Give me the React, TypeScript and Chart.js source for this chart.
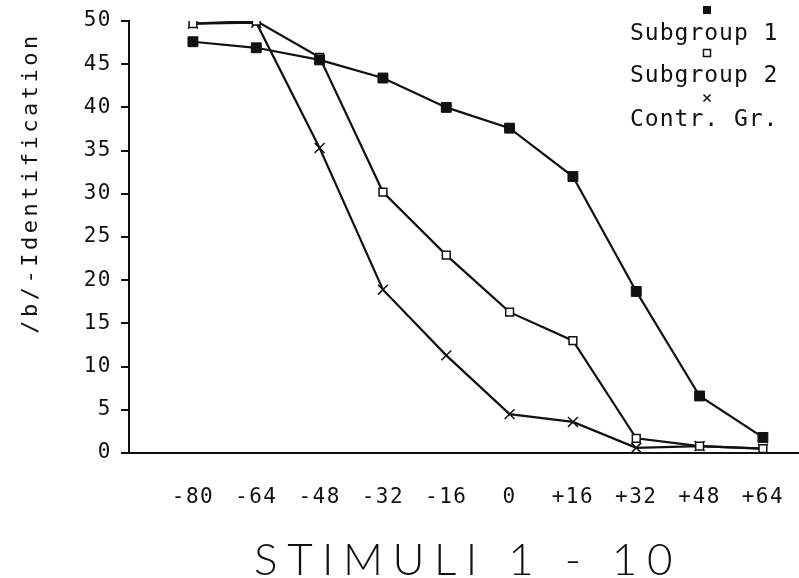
import React, { useEffect, useRef } from 'react';
import { Chart, registerables } from 'chart.js';

Chart.register(...registerables);

const stimuli = ['-80', '-64', '-48', '-32', '-16', '0', '+16', '+32', '+48', '+64'];
const subgroup1 = [47.6, 46.9, 45.5, 43.4, 40.0, 37.6, 32.0, 18.7, 6.6, 1.8];
const subgroup2 = [49.7, 50.0, 45.8, 30.2, 22.9, 16.3, 13.0, 1.7, 0.8, 0.5];
const control = [49.7, 49.8, 35.3, 18.9, 11.3, 4.5, 3.6, 0.6, 0.8, 0.5];
const yTicks = [0, 5, 10, 15, 20, 25, 30, 35, 40, 45, 50];
const legendLabels = ['Subgroup 1', 'Subgroup 2', 'Contr. Gr.'];
const yTitle = '/b/-Identification';
const xTitle = 'STIMULI 1 - 10';

const INK = '#111111';
const MONO = "'DejaVu Sans Mono', 'Liberation Mono', monospace";

function drawMarker(ctx: CanvasRenderingContext2D, kind: number, x: number, y: number) {
  ctx.save();
  ctx.strokeStyle = INK;
  ctx.fillStyle = INK;
  ctx.lineWidth = 1.5;
  if (kind === 0) {
    ctx.fillRect(x - 4, y - 4, 8, 8);
  } else if (kind === 1) {
    ctx.fillStyle = '#fff';
    ctx.fillRect(x - 3.5, y - 3.5, 7, 7);
    ctx.strokeRect(x - 3.5, y - 3.5, 7, 7);
  } else {
    ctx.beginPath();
    ctx.moveTo(x - 3.5, y - 3.5);
    ctx.lineTo(x + 3.5, y + 3.5);
    ctx.moveTo(x + 3.5, y - 3.5);
    ctx.lineTo(x - 3.5, y + 3.5);
    ctx.stroke();
  }
  ctx.restore();
}

export default function App() {
  const ref = useRef<HTMLCanvasElement>(null);

  useEffect(() => {
    const canvas = ref.current;
    if (!canvas) return;

    const textPlugin = {
      id: 'paperText',
      beforeDraw(chart: any) {
        chart.ctx.letterSpacing = '1.5px';
      },
      afterDraw(chart: any) {
        const ctx = chart.ctx as any;
        const area = chart.chartArea;
        // y title
        ctx.save();
        ctx.fillStyle = INK;
        ctx.letterSpacing = '3.5px';
        ctx.font = `22px ${MONO}`;
        ctx.translate(31, 183);
        ctx.rotate(-Math.PI / 2);
        ctx.textAlign = 'center';
        ctx.textBaseline = 'middle';
        ctx.fillText(yTitle, 0, 0);
        ctx.restore();

        // x title
        ctx.save();
        ctx.fillStyle = INK;
        ctx.letterSpacing = '9.5px';
        ctx.font = `300 44px Lato, Roboto, sans-serif`;
        ctx.textAlign = 'center';
        ctx.textBaseline = 'alphabetic';
        ctx.fillText(xTitle, (area.left + area.right) / 2 + 4, 575);
        ctx.restore();

        // legend
        ctx.save();
        ctx.fillStyle = INK;
        ctx.letterSpacing = '1px';
        ctx.font = `23px ${MONO}`;
        ctx.textAlign = 'left';
        ctx.textBaseline = 'middle';
        const markY = [10, 53, 98];
        const textY = [34, 76, 120];
        legendLabels.forEach((lab, i) => {
          drawMarker(ctx, i, 707, markY[i]);
          ctx.fillText(lab, 630, textY[i]);
        });
        ctx.restore();
        ctx.letterSpacing = '0px';
      },
    };

    const toPts = (arr: number[]) => arr.map((v, i) => ({ x: i, y: v }));

    const chart = new Chart(canvas, {
      type: 'line',
      data: {
        datasets: [
          {
            label: legendLabels[0],
            data: toPts(subgroup1),
            borderColor: INK,
            borderWidth: 2.2,
            pointStyle: 'rect',
            pointRadius: 7,
            pointBackgroundColor: INK,
            pointBorderColor: INK,
            pointBorderWidth: 1,
            tension: 0,
          },
          {
            label: legendLabels[1],
            data: toPts(subgroup2),
            borderColor: INK,
            borderWidth: 2.2,
            pointStyle: 'rect',
            pointRadius: 5.5,
            pointBackgroundColor: '#ffffff',
            pointBorderColor: INK,
            pointBorderWidth: 1.5,
            tension: 0,
          },
          {
            label: legendLabels[2],
            data: toPts(control),
            borderColor: INK,
            borderWidth: 2.2,
            pointStyle: 'crossRot',
            pointRadius: 7,
            pointBackgroundColor: INK,
            pointBorderColor: INK,
            pointBorderWidth: 1.5,
            tension: 0,
          },
        ],
      },
      options: {
        animation: false,
        responsive: false,
        devicePixelRatio: 1,
        layout: { autoPadding: false, padding: { top: 21, right: 0, left: 0, bottom: 0 } },
        plugins: {
          legend: { display: false },
          tooltip: { enabled: false },
        },
        scales: {
          x: {
            type: 'linear',
            min: -1.01,
            max: 9.57,
            afterBuildTicks: (s: any) => {
              s.ticks = stimuli.map((_, i) => ({ value: i }));
            },
            afterFit: (s: any) => {
              s.height = 125;
              s.paddingLeft = 0;
              s.paddingRight = 0;
            },
            grid: { display: false, drawTicks: false },
            border: { display: true, color: INK, width: 2 },
            ticks: {
              autoSkip: false,
              maxRotation: 0,
              padding: 32,
              color: INK,
              font: { family: MONO, size: 21 },
              callback: (v: any) => stimuli[Math.round(Number(v))] ?? '',
            },
          },
          y: {
            min: 0,
            max: 50,
            afterBuildTicks: (s: any) => {
              s.ticks = yTicks.map((v) => ({ value: v }));
            },
            afterFit: (s: any) => {
              s.width = 129;
              s.paddingTop = 0;
              s.paddingBottom = 0;
            },
            grid: { drawOnChartArea: false, drawTicks: true, tickLength: 8, color: INK, lineWidth: 2 },
            border: { display: true, color: INK, width: 2 },
            ticks: {
              padding: 9,
              color: INK,
              font: { family: MONO, size: 21 },
            },
          },
        },
      },
      plugins: [textPlugin],
    });

    return () => chart.destroy();
  }, []);

  return (
    <div style={{ position: 'fixed', left: 0, top: 0, width: 799, height: 578, background: '#fff' }}>
      <canvas ref={ref} width={799} height={578} style={{ display: 'block' }} />
    </div>
  );
}
